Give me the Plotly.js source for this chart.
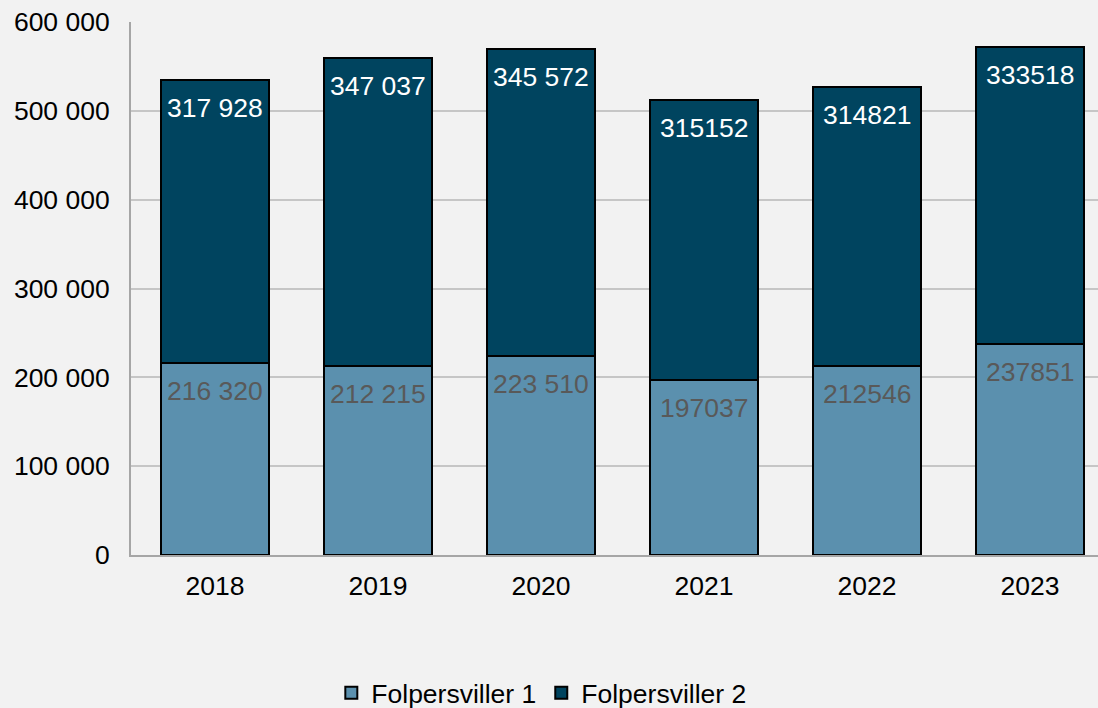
<!DOCTYPE html>
<html>
<head>
<meta charset="utf-8">
<script src="https://cdn.plot.ly/plotly-3.0.1.min.js"></script>
<style>html,body{margin:0;padding:0;background:#f2f2f2;}#chart{width:1098px;height:708px;}</style>
</head>
<body>
<div id="chart"></div>
<script>
const years = ['2018', '2019', '2020', '2021', '2022', '2023'];
const folp1 = [216320, 212215, 223510, 197037, 212546, 237851];
const folp2 = [317928, 347037, 345572, 315152, 314821, 333518];
const folp1Labels = ['216 320', '212 215', '223 510', '197037', '212546', '237851'];
const folp2Labels = ['317 928', '347 037', '345 572', '315152', '314821', '333518'];
const seriesNames = ['Folpersviller 1', 'Folpersviller 2'];

const FONT = 'Arial, "Liberation Sans", sans-serif';
const FS = 26.5;
const traces = [
  {
    type: 'bar', x: years, y: folp1, name: seriesNames[0],
    marker: {color: '#5b90ae', line: {color: '#000000', width: 2}},
    width: 0.663, hoverinfo: 'none'
  },
  {
    type: 'bar', x: years, y: folp2, name: seriesNames[1],
    marker: {color: '#00445f', line: {color: '#000000', width: 2}},
    width: 0.663, hoverinfo: 'none'
  }
];

const annotations = [];
years.forEach((yr, i) => {
  annotations.push({
    x: i, y: folp1[i], xref: 'x', yref: 'y', text: folp1Labels[i],
    showarrow: false, yanchor: 'middle', xanchor: 'center', yshift: -28,
    font: {family: FONT, size: FS, color: '#595959'}
  });
  annotations.push({
    x: i, y: folp1[i] + folp2[i], xref: 'x', yref: 'y', text: folp2Labels[i],
    showarrow: false, yanchor: 'middle', xanchor: 'center', yshift: -28,
    font: {family: FONT, size: FS, color: '#ffffff'}
  });
});

const layout = {
  width: 1098, height: 708,
  paper_bgcolor: '#f2f2f2', plot_bgcolor: '#f2f2f2',
  barmode: 'stack',
  separators: ', ',
  margin: {l: 131, r: 0, t: 22, b: 153},
  font: {family: FONT, size: FS, color: '#000000'},
  annotations: annotations,
  xaxis: {
    type: 'category', range: [-0.515, 5.417],
    showline: true, linecolor: '#a6a6a6', linewidth: 2,
    showgrid: false, ticks: '', ticklabelstandoff: 6,
    tickfont: {family: FONT, size: FS, color: '#000000'}
  },
  yaxis: {
    range: [0, 600000], dtick: 100000, tickformat: ',d',
    showline: true, linecolor: '#a6a6a6', linewidth: 2,
    showgrid: true, gridcolor: '#c6c6c6', gridwidth: 2,
    zeroline: false, ticks: '', ticklabelstandoff: 14,
    tickfont: {family: FONT, size: FS, color: '#000000'}
  },
  legend: {
    orientation: 'h', xref: 'container', yref: 'container',
    x: 0.493, xanchor: 'center', y: 0.021, yanchor: 'middle',
    font: {family: FONT, size: FS, color: '#000000'},
    traceorder: 'normal', itemwidth: 30
  },
  showlegend: true
};

Plotly.newPlot('chart', traces, layout, {staticPlot: true});
</script>
</body>
</html>
